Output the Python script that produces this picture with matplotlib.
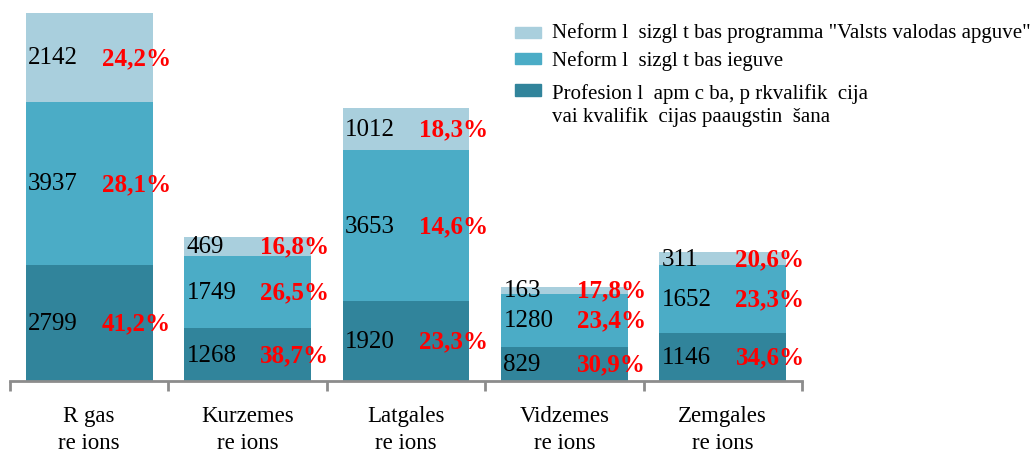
import matplotlib
matplotlib.use('Agg')
import matplotlib.pyplot as plt
from matplotlib.patches import Rectangle
import numpy as np

plt.rcParams['font.family'] = ['Liberation Serif', 'DejaVu Serif']

# data
regions = ['R gas\nre ions', 'Kurzemes\nre ions', 'Latgales\nre ions',
           'Vidzemes\nre ions', 'Zemgales\nre ions']
prof = [2799, 1268, 1920, 829, 1146]
izgl = [3937, 1749, 3653, 1280, 1652]
valoda = [2142, 469, 1012, 163, 311]
prof_pct = ['41,2%', '38,7%', '23,3%', '30,9%', '34,6%']
izgl_pct = ['28,1%', '26,5%', '14,6%', '23,4%', '23,3%']
valoda_pct = ['24,2%', '16,8%', '18,3%', '17,8%', '20,6%']

legend_labels = [
    'Neform l  sizgl t bas programma "Valsts valodas apguve"',
    'Neform l  sizgl t bas ieguve',
    'Profesion l  apm c ba, p rkvalifik  cija\nvai kvalifik  cijas paaugstin  šana',
]

c_light = '#A9CFDD'
c_mid = '#4BACC6'
c_dark = '#31849B'

fig = plt.figure(figsize=(10.32, 4.52), dpi=100)
ax = fig.add_axes([10 / 1032, 70 / 452, 792 / 1032, 382 / 452])

x = np.arange(len(regions))
w = 0.8
series = [(prof, prof_pct, c_dark), (izgl, izgl_pct, c_mid), (valoda, valoda_pct, c_light)]
bottom = np.zeros(len(regions))
for vals, pcts, col in series:
    vals = np.array(vals, dtype=float)
    ax.bar(x, vals, w, bottom=bottom, color=col, edgecolor='none')
    for i in range(len(x)):
        yc = bottom[i] + vals[i] / 2
        ax.text(x[i] - 0.385, yc, str(int(vals[i])), ha='left', va='center',
                fontsize=18, color='black')
        ax.text(x[i] + 0.08, yc, pcts[i], ha='left', va='center',
                fontsize=18, color='red', fontweight='bold')
    bottom += vals

ax.set_xlim(-0.5, 4.5)
ax.set_ylim(0, 9216)
for s in ['top', 'left', 'right']:
    ax.spines[s].set_visible(False)
ax.spines['bottom'].set_color('#8c8c8c')
ax.spines['bottom'].set_linewidth(2)
ax.set_yticks([])
ax.set_xticks(x)
ax.set_xticklabels(regions, fontsize=16.5, linespacing=1.4)
ax.set_xticks(np.arange(-0.5, 5, 1), minor=True)
ax.tick_params(axis='x', which='major', length=0, pad=17)
ax.tick_params(axis='x', which='minor', length=7, width=2, color='#8c8c8c')

# legend drawn by hand (top right, runs off the edge like the original)
W, H = 1032, 452
leg = [(c_light, 28, 39, 33), (c_mid, 54, 65, 61), (c_dark, 85, 97, 95)]
for (col, y0, y1, yt), lab in zip(leg, legend_labels):
    fig.patches.append(Rectangle((515 / W, 1 - y1 / H), 26 / W, (y1 - y0) / H,
                                 transform=fig.transFigure, color=col))
    if '\n' in lab:
        fig.text(552 / W, 1 - (yt - 11) / H, lab, ha='left', va='top',
                 fontsize=15, linespacing=1.2)
    else:
        fig.text(552 / W, 1 - yt / H, lab, ha='left', va='center', fontsize=15)

fig.savefig('out.png', dpi=100)
